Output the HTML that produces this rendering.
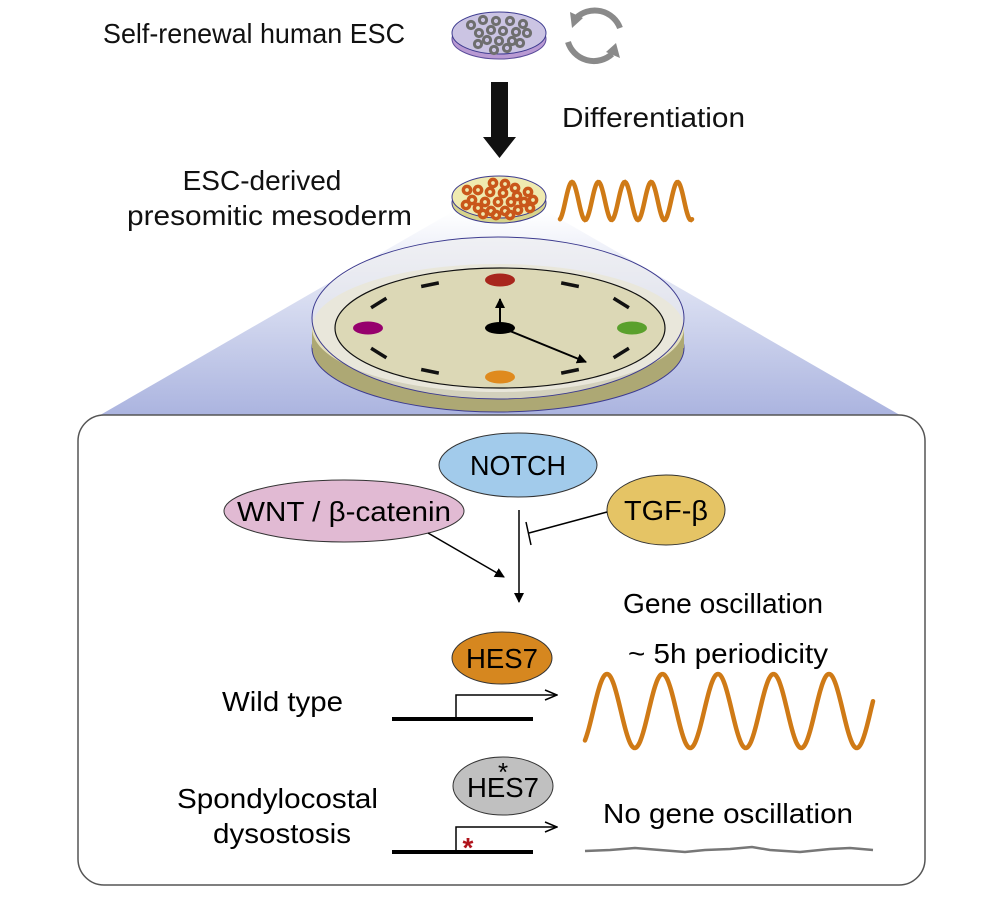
<!DOCTYPE html>
<html><head><meta charset="utf-8"><style>
html,body{margin:0;padding:0;background:#fff;}
svg{display:block;font-family:"Liberation Sans",Arial,sans-serif;}
</style></head><body>
<svg id="fig" width="996" height="900" viewBox="0 0 996 900">
<defs>
<linearGradient id="blueg" x1="0" y1="0" x2="0" y2="1">
<stop offset="0" stop-color="#ffffff"/><stop offset="0.45" stop-color="#d6dbf0"/><stop offset="1" stop-color="#aab3df"/>
</linearGradient>
<marker id="ah" markerWidth="10" markerHeight="10" refX="9" refY="5" orient="auto" markerUnits="userSpaceOnUse"><path d="M0,0 L10,5 L0,10 z" fill="#000"/></marker>
<marker id="ahopen" markerWidth="14" markerHeight="12" refX="13" refY="6" orient="auto" markerUnits="userSpaceOnUse"><path d="M1,1 L13,6 L1,11" fill="none" stroke="#000" stroke-width="1.5"/></marker>
</defs>

<text x="103" y="43" font-size="28" textLength="302" lengthAdjust="spacingAndGlyphs" fill="#111">Self-renewal human ESC</text>
<g>
<ellipse cx="499" cy="39" rx="47" ry="20" fill="#b99ad3" stroke="#5a4c9a" stroke-width="1"/>
<ellipse cx="499" cy="33" rx="47" ry="21" fill="#cbc4e3" stroke="#3d3b8f" stroke-width="1"/>
<g id="grayCells" fill="none" stroke="#6e6e6e" stroke-width="3"></g>
</g>
<g fill="none" stroke="#8a8a8a" stroke-width="6">
<path d="M620,28 A27,27 0 0 0 576,18"/>
<path d="M568,42 A27,27 0 0 0 612,54"/>
<path d="M570,12 L572,28 L583,18 z" fill="#8a8a8a" stroke="none"/>
<path d="M620,58 L616,43 L606,52 z" fill="#8a8a8a" stroke="none"/>
</g>
<path d="M491,82 L508,82 L508,137 L516,137 L499.5,158 L483,137 L491,137 z" fill="#111"/>
<text x="562" y="127" font-size="28" textLength="183" lengthAdjust="spacingAndGlyphs" fill="#111">Differentiation</text>
<text x="262" y="190" font-size="28" text-anchor="middle" fill="#111">ESC-derived</text>
<text x="127" y="225" font-size="28" textLength="285" lengthAdjust="spacingAndGlyphs" fill="#111">presomitic mesoderm</text>

<polygon points="452,212 548,212 905,418 95,418" fill="url(#blueg)"/>

<g>
<ellipse cx="499" cy="203" rx="47" ry="20" fill="#d7d48c" stroke="#3d3b8f" stroke-width="1"/>
<ellipse cx="499" cy="197" rx="47" ry="21" fill="#efeab0" stroke="#3d3b8f" stroke-width="1"/>
<g id="orangeCells" fill="none" stroke="#c9561a" stroke-width="3.5"></g>
</g>
<path id="topWave" fill="none" stroke="#cf7a16" stroke-width="4.5" stroke-linecap="round"/>

<g>
<ellipse cx="498" cy="348" rx="186" ry="64" fill="#ada874" stroke="#3d3b8f" stroke-width="1"/>
<rect x="312" y="328" width="372" height="20" fill="#ada874"/>
<ellipse cx="498" cy="328" rx="186" ry="64" fill="#e3dfbd"/>
<ellipse cx="498" cy="318" rx="186" ry="81" fill="#ececef" fill-opacity="0.6"/>
<ellipse cx="500" cy="328" rx="165" ry="60" fill="#dcd8b6" stroke="#111" stroke-width="1.2"/>
<g id="dashes" stroke="#111" stroke-width="3.5"></g>
<ellipse cx="500" cy="280" rx="15" ry="6.5" fill="#a8261c"/>
<ellipse cx="368" cy="328" rx="15" ry="6.5" fill="#96006d"/>
<ellipse cx="632" cy="328" rx="15" ry="6.5" fill="#5aa02c"/>
<ellipse cx="500" cy="377" rx="15" ry="6.5" fill="#df8a1e"/>
<line x1="500" y1="326" x2="500" y2="299" stroke="#000" stroke-width="2" marker-end="url(#ah)"/>
<line x1="505" y1="329" x2="586" y2="362" stroke="#000" stroke-width="2" marker-end="url(#ah)"/>
<ellipse cx="500" cy="328" rx="15" ry="6" fill="#000"/>
<ellipse cx="498" cy="318" rx="186" ry="81" fill="none" stroke="#3d3b8f" stroke-width="1"/>
</g>

<rect x="78" y="415" width="847" height="470" rx="26" fill="#fff" stroke="#555" stroke-width="1.5"/>

<ellipse cx="518" cy="465" rx="79" ry="32" fill="#a2cbeb" stroke="#333" stroke-width="1"/>
<text x="518" y="475" font-size="28" text-anchor="middle" textLength="96" lengthAdjust="spacingAndGlyphs">NOTCH</text>
<ellipse cx="344" cy="511" rx="120" ry="31" fill="#e1bad3" stroke="#333" stroke-width="1"/>
<text x="344" y="521" font-size="28" text-anchor="middle" textLength="214" lengthAdjust="spacingAndGlyphs">WNT / β-catenin</text>
<ellipse cx="666" cy="510" rx="59" ry="35" fill="#e5c465" stroke="#333" stroke-width="1"/>
<text x="666" y="520" font-size="28" text-anchor="middle" textLength="84" lengthAdjust="spacingAndGlyphs">TGF-β</text>

<line x1="519" y1="510" x2="519" y2="602" stroke="#000" stroke-width="1.5" marker-end="url(#ah)"/>
<line x1="607" y1="512" x2="529" y2="533" stroke="#000" stroke-width="1.5"/>
<line x1="526" y1="522" x2="531" y2="545" stroke="#000" stroke-width="1.5"/>
<line x1="428" y1="533" x2="504" y2="577" stroke="#000" stroke-width="1.5" marker-end="url(#ah)"/>

<text x="723" y="613" font-size="28" text-anchor="middle" textLength="200" lengthAdjust="spacingAndGlyphs">Gene oscillation</text>
<text x="728" y="663" font-size="28" text-anchor="middle" textLength="200" lengthAdjust="spacingAndGlyphs">~ 5h periodicity</text>

<ellipse cx="502" cy="658" rx="50" ry="26" fill="#d6871f" stroke="#333" stroke-width="1"/>
<text x="502" y="668" font-size="28" text-anchor="middle" textLength="72" lengthAdjust="spacingAndGlyphs">HES7</text>
<text x="222" y="711" font-size="28" textLength="121" lengthAdjust="spacingAndGlyphs">Wild type</text>
<line x1="392" y1="719" x2="533" y2="719" stroke="#000" stroke-width="4"/>
<polyline points="456,719 456,695 557,695" fill="none" stroke="#000" stroke-width="1.5" marker-end="url(#ahopen)"/>
<path id="wtWave" fill="none" stroke="#cf7a16" stroke-width="4.5" stroke-linecap="round"/>

<ellipse cx="503" cy="786" rx="50" ry="29" fill="#c0c0c0" stroke="#333" stroke-width="1"/>
<text x="503" y="797" font-size="28" text-anchor="middle" textLength="72" lengthAdjust="spacingAndGlyphs">HES7</text>
<text x="503" y="781" font-size="26" text-anchor="middle">*</text>
<text x="177" y="808" font-size="28" textLength="201" lengthAdjust="spacingAndGlyphs">Spondylocostal</text>
<text x="213" y="843" font-size="28" textLength="138" lengthAdjust="spacingAndGlyphs">dysostosis</text>
<line x1="392" y1="852" x2="533" y2="852" stroke="#000" stroke-width="4"/>
<polyline points="456,852 456,827 557,827" fill="none" stroke="#000" stroke-width="1.5" marker-end="url(#ahopen)"/>
<text x="468" y="857" font-size="28" font-weight="bold" fill="#b0141c" text-anchor="middle">*</text>
<text x="728" y="823" font-size="28" text-anchor="middle" textLength="250" lengthAdjust="spacingAndGlyphs">No gene oscillation</text>
<polyline points="585,851 610,850 635,848 660,850 685,852 705,850 730,849 752,847 770,850 800,852 830,849 850,848 873,850" fill="none" stroke="#777" stroke-width="2.5"/>
</svg>
<script>
const topWave = {x0:560, x1:692, cy:201, amp:19, period:26.4, peakX:572};
const wtWave = {x0:585, x1:873, cy:711, amp:37, period:55.5, peakX:607};
function wavePath(w){
  let d='';
  for(let x=w.x0;x<=w.x1;x+=1){
    const y=w.cy-w.amp*Math.cos(2*Math.PI*(x-w.peakX)/w.period);
    d+=(x===w.x0?'M':'L')+x.toFixed(1)+','+y.toFixed(1);
  }
  return d;
}
document.getElementById('topWave').setAttribute('d',wavePath(topWave));
document.getElementById('wtWave').setAttribute('d',wavePath(wtWave));

const grayCellsXY=[[471,25],[483,20],[496,21],[510,21],[523,24],[479,33],[491,30],[503,31],[516,32],[527,33],[487,40],[499,41],[512,41],[478,44],[520,43],[494,50],[507,48]];
const orangeCellsXY=[[493,183],[505,184],[515,188],[467,190],[478,190],[490,192],[503,193],[517,196],[528,192],[472,200],[485,202],[498,202],[511,202],[524,202],[533,200],[466,205],[478,208],[491,211],[505,211],[518,210],[530,208],[483,214],[496,215],[510,215]];
const gc=document.getElementById('grayCells');
grayCellsXY.forEach(function(p){
  const c=document.createElementNS('http://www.w3.org/2000/svg','circle');
  c.setAttribute('cx',p[0]);c.setAttribute('cy',p[1]);c.setAttribute('r',3.6);
  
  
  gc.appendChild(c);
});
const oc=document.getElementById('orangeCells');
orangeCellsXY.forEach(function(p){
  const c=document.createElementNS('http://www.w3.org/2000/svg','circle');
  c.setAttribute('cx',p[0]);c.setAttribute('cy',p[1]);c.setAttribute('r',3.6);
  
  
  oc.appendChild(c);
});
const dashAngles=[30,60,120,150,210,240,300,330];
const dg=document.getElementById('dashes');
dashAngles.forEach(function(a){
  const r=a*Math.PI/180, rx=140, ry=50, cx=500, cy=328;
  const x=cx+rx*Math.sin(r), y=cy-ry*Math.cos(r);
  const tx=rx*Math.cos(r), ty=ry*Math.sin(r);
  const L=Math.hypot(tx,ty), h=9;
  const l=document.createElementNS('http://www.w3.org/2000/svg','line');
  l.setAttribute('x1',x-tx/L*h);l.setAttribute('y1',y-ty/L*h);
  l.setAttribute('x2',x+tx/L*h);l.setAttribute('y2',y+ty/L*h);
  
  
  dg.appendChild(l);
});
</script>
</body></html>
